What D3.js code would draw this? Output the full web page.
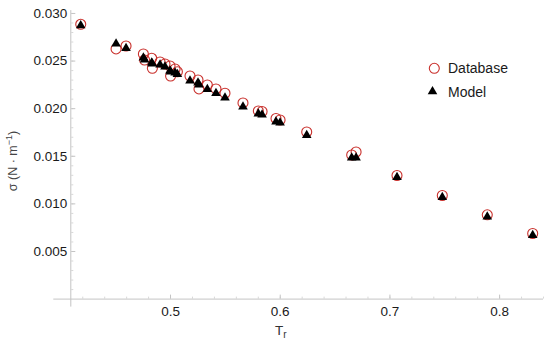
<!DOCTYPE html>
<html>
<head>
<meta charset="utf-8">
<script src="https://cdn.jsdelivr.net/npm/d3@7.9.0/dist/d3.min.js"></script>
<style>
  body { margin: 0; background: #fff; }
  svg { display: block; font-family: "Liberation Sans", Arial, sans-serif; }
</style>
</head>
<body>
<svg width="550" height="343"></svg>
<script>
// reduced temperature
const tr = [0.4186, 0.4508, 0.4599, 0.4757, 0.4768, 0.4833, 0.4839, 0.4909, 0.4954, 0.5000,
  0.5005, 0.5046, 0.5067, 0.5182, 0.5255, 0.5264, 0.5340, 0.5419, 0.5501, 0.5665,
  0.5805, 0.5839, 0.5966, 0.6003, 0.6246, 0.6656, 0.6696, 0.7069, 0.7482, 0.7892, 0.8306];
// surface tension, database
const sigmaDb = [0.02881, 0.02622, 0.02653, 0.02569, 0.02506, 0.02524, 0.02419, 0.02485, 0.02464, 0.02443,
  0.02338, 0.02412, 0.02383, 0.02338, 0.02296, 0.02202, 0.02244, 0.02202, 0.02157, 0.02055,
  0.01971, 0.01965, 0.01892, 0.01876, 0.01750, 0.01508, 0.01540, 0.01293, 0.01083, 0.00880, 0.00684];
// surface tension, model
const sigmaModel = [0.02876, 0.02685, 0.02638, 0.02538, 0.02517, 0.02485, 0.02475, 0.02464, 0.02443, 0.02401,
  0.02391, 0.02380, 0.02364, 0.02296, 0.02275, 0.02254, 0.02207, 0.02165, 0.02118, 0.02023,
  0.01950, 0.01939, 0.01866, 0.01855, 0.01724, 0.01487, 0.01487, 0.01283, 0.01072, 0.00868, 0.00673];

const xTicks = [0.5, 0.6, 0.7, 0.8];
const yTicks = [0.005, 0.010, 0.015, 0.020, 0.025, 0.030];
const seriesNames = ['Database', 'Model'];

const svg = d3.select('svg');
const red = '#c9302c';
const axisGray = '#c4c4c4';

const x = d3.scaleLinear().domain([0.41, 0.84]).range([71.3, 543]);
const y = d3.scaleLinear().domain([0, 0.0303]).range([298.6, 10.1]);

// minor ticks first
const xMinor = d3.range(0.42, 0.841, 0.02);
const yMinor = d3.range(0.001, 0.0301, 0.001);

svg.append('g')
  .attr('transform', `translate(0,${y(0)})`)
  .call(d3.axisBottom(x).tickValues(xMinor).tickSize(-2).tickFormat(''))
  .call(g => g.select('.domain').remove())
  .selectAll('line').attr('stroke', '#d8d8d8');

svg.append('g')
  .attr('transform', `translate(${x(0.41)},0)`)
  .call(d3.axisLeft(y).tickValues(yMinor).tickSize(-2).tickFormat(''))
  .call(g => g.select('.domain').remove())
  .selectAll('line').attr('stroke', '#d8d8d8');

// major axes
const xAxis = svg.append('g')
  .attr('transform', `translate(0,${y(0)})`)
  .call(d3.axisBottom(x).tickValues(xTicks).tickSize(-4).tickPadding(8).tickFormat(d3.format('.1f')));
xAxis.select('.domain').attr('d', `M${x(0.41) - 18},0.5H${x(0.84)}`).attr('stroke', axisGray);
xAxis.selectAll('line').attr('stroke', axisGray);
xAxis.selectAll('text').attr('font-size', 13.5).attr('fill', '#1a1a1a');

const yAxis = svg.append('g')
  .attr('transform', `translate(${x(0.41)},0)`)
  .call(d3.axisLeft(y).tickValues(yTicks).tickSize(-4).tickPadding(4).tickFormat(d3.format('.3f')));
yAxis.select('.domain').attr('d', `M-0.5,${y(0.0303)}V${y(0) + 8}`).attr('stroke', axisGray);
yAxis.selectAll('line').attr('stroke', axisGray);
yAxis.selectAll('text').attr('font-size', 13.5).attr('fill', '#1a1a1a');

// axis labels
const yl = svg.append('text')
  .attr('transform', `translate(17,161) rotate(-90)`)
  .attr('text-anchor', 'middle')
  .attr('font-size', 12.5)
  .attr('fill', '#444');
yl.append('tspan').text('σ (N · m');
yl.append('tspan').attr('dy', -5).attr('font-size', 9).text('−1');
yl.append('tspan').attr('dy', 5).text(')');

const xl = svg.append('text')
  .attr('x', 275).attr('y', 335)
  .attr('font-size', 13.5)
  .attr('fill', '#333');
xl.append('tspan').text('T');
xl.append('tspan').attr('dy', 3).attr('font-size', 10).text('r');

// markers
const tri = d3.symbol().type(d3.symbolTriangle).size(40);
const pts = tr.map((t, i) => ({ t, db: sigmaDb[i], m: sigmaModel[i] }));

svg.append('g').selectAll('circle')
  .data(pts)
  .join('circle')
  .attr('cx', d => x(d.t))
  .attr('cy', d => y(d.db))
  .attr('r', 5)
  .attr('fill', 'none')
  .attr('stroke', red)
  .attr('stroke-width', 1.1);

svg.append('g').selectAll('path')
  .data(pts)
  .join('path')
  .attr('d', tri)
  .attr('transform', d => `translate(${x(d.t)},${y(d.m) + 0.8})`)
  .attr('fill', '#000');

// legend
const legend = svg.append('g');
legend.append('circle')
  .attr('cx', 434.3).attr('cy', 68.3).attr('r', 5)
  .attr('fill', 'none').attr('stroke', red).attr('stroke-width', 1.1);
legend.append('path')
  .attr('d', tri)
  .attr('transform', 'translate(432.5,91.5)')
  .attr('fill', '#000');
legend.selectAll('text')
  .data(seriesNames)
  .join('text')
  .attr('x', 448)
  .attr('y', (d, i) => 73 + i * 24)
  .attr('font-size', 14)
  .attr('fill', '#1a1a1a')
  .text(d => d);
</script>
</body>
</html>
